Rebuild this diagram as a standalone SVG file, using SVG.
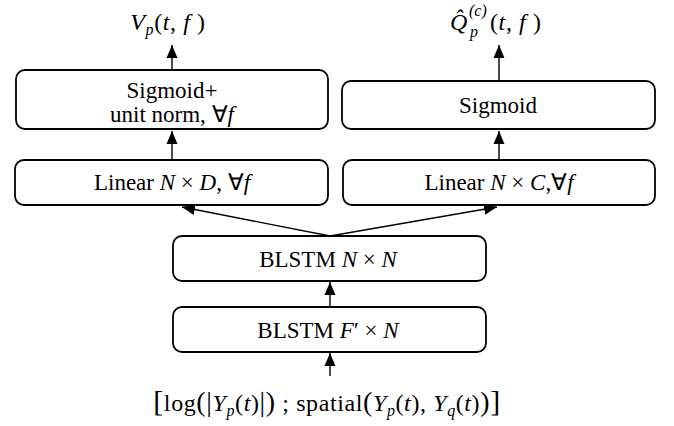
<svg xmlns="http://www.w3.org/2000/svg" width="674" height="426" viewBox="0 0 674 426">
<style>
.box{fill:#fff;stroke:#000;stroke-width:1.8}
.t{font-family:"Liberation Serif",serif;font-size:23px;fill:#000;text-anchor:middle}
.l{text-anchor:start}
.m{font-size:24px;letter-spacing:0.6px}
.i{font-style:italic}
.s{font-size:16px;font-style:italic}
.c{stroke:#000;stroke-width:1.4;fill:none;marker-end:url(#ah)}
</style>
<defs>
<marker id="ah" markerWidth="14" markerHeight="12" refX="13" refY="6" orient="auto" markerUnits="userSpaceOnUse">
<path d="M0,0.5 L13,6 L0,11.5 Z" fill="#000"/>
</marker>
</defs>
<g id="connectors">
<line class="c" x1="172" y1="70" x2="172" y2="45"/>
<line class="c" x1="499" y1="81" x2="499" y2="45"/>
<line class="c" x1="172" y1="160" x2="172" y2="131"/>
<line class="c" x1="499" y1="160" x2="499" y2="131"/>
<line class="c" x1="330" y1="236" x2="182" y2="207"/>
<line class="c" x1="330" y1="236" x2="497" y2="207"/>
<line class="c" x1="330" y1="307" x2="330" y2="282"/>
<line class="c" x1="330" y1="376" x2="330" y2="353"/>
</g>
<g id="out-v">
<text class="t m" x="168" y="30"><tspan class="i">V</tspan><tspan class="s" dy="5">p</tspan><tspan dy="-5">(</tspan><tspan class="i">t</tspan>, <tspan class="i">f</tspan> )</text>
</g>
<g id="out-q">
<text class="t m l i" x="450" y="30">Q̂</text>
<text class="t l s" x="470" y="37" font-size="15">p</text>
<text class="t l s" x="469" y="16" font-size="14">(c)</text>
<text class="t m l" x="490" y="30">(<tspan class="i">t</tspan>, <tspan class="i">f</tspan> )</text>
</g>
<g id="sigmoid-norm">
<rect class="box" x="16" y="70" width="312" height="59" rx="9"/>
<text class="t" x="172" y="98">Sigmoid+</text>
<text class="t" x="172" y="122">unit norm, ∀<tspan class="i">f</tspan></text>
</g>
<g id="sigmoid">
<rect class="box" x="342" y="81" width="313" height="48" rx="9"/>
<text class="t" x="498" y="113">Sigmoid</text>
</g>
<g id="linear-d">
<rect class="box" x="15" y="160" width="313" height="45" rx="9"/>
<text class="t" x="172" y="190">Linear <tspan class="i">N</tspan> × <tspan class="i">D</tspan>, ∀<tspan class="i">f</tspan></text>
</g>
<g id="linear-c">
<rect class="box" x="343" y="160" width="312" height="45" rx="9"/>
<text class="t" x="499" y="190">Linear <tspan class="i">N</tspan> × <tspan class="i">C</tspan>,∀<tspan class="i">f</tspan></text>
</g>
<g id="blstm-nn">
<rect class="box" x="173" y="236" width="313" height="45" rx="9"/>
<text class="t" x="328" y="267">BLSTM <tspan class="i">N</tspan> × <tspan class="i">N</tspan></text>
</g>
<g id="blstm-fn">
<rect class="box" x="173" y="307" width="313" height="45" rx="9"/>
<text class="t" x="328" y="338">BLSTM <tspan class="i">F</tspan>′ × <tspan class="i">N</tspan></text>
</g>
<g id="input">
<text class="t m" x="327" y="411"><tspan font-size="30">[</tspan>log<tspan font-size="28">(</tspan><tspan font-size="28">|</tspan><tspan class="i">Y</tspan><tspan class="s" dy="5">p</tspan><tspan dy="-5">(</tspan><tspan class="i">t</tspan>)<tspan font-size="28">|</tspan><tspan font-size="28">)</tspan> ; spatial<tspan font-size="28">(</tspan><tspan class="i">Y</tspan><tspan class="s" dy="5">p</tspan><tspan dy="-5">(</tspan><tspan class="i">t</tspan>), <tspan class="i">Y</tspan><tspan class="s" dy="5">q</tspan><tspan dy="-5">(</tspan><tspan class="i">t</tspan>)<tspan font-size="28">)</tspan><tspan font-size="30">]</tspan></text>
</g>
</svg>
